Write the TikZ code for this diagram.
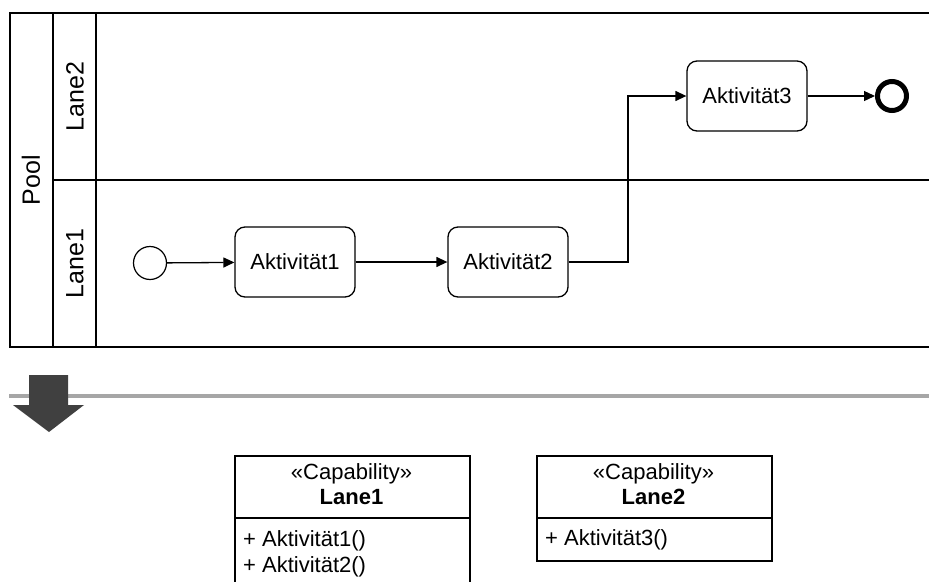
\documentclass[tikz,border=0pt]{standalone}
\usepackage{fontspec}
\setmainfont{Liberation Sans}
\usetikzlibrary{arrows.meta}
\definecolor{sepgray}{RGB}{166,166,166}
\definecolor{arrowdark}{RGB}{64,64,64}
\begin{document}
\begin{tikzpicture}[x=1pt,y=-1pt,
  txt/.style={font=\fontsize{22}{26}\selectfont, inner sep=0pt},
  act/.style={draw, rounded corners=10pt, line width=1.3pt, minimum width=120pt, minimum height=70pt, txt},
  flow/.style={line width=1.3pt, -{Triangle[length=11pt,width=10pt]}},
  lanelbl/.style={rotate=90, font=\fontsize{25}{30}\selectfont, inner sep=0pt},
  poolline/.style={line width=2pt},
  classbox/.style={draw, line width=1.8pt, inner sep=0pt, anchor=north west},
  startev/.style={draw, circle, line width=1.2pt, minimum size=33pt, inner sep=0pt},
  endev/.style={draw, circle, line width=5pt, minimum size=29pt, inner sep=0pt}
]
\useasboundingbox (0,0) rectangle (929,581);
\clip (0,0) rectangle (929,581);
% pool
\draw[poolline] (935,13) -- (10,13) -- (10,347) -- (935,347);
\draw[poolline] (53,13) -- (53,347);
\draw[poolline] (96,13) -- (96,347);
\draw[poolline] (53,180) -- (935,180);
\node[lanelbl] (pool) at (31,180) {Pool};
\node[lanelbl] (lane2) at (75,96.5) {Lane2};
\node[lanelbl] (lane1) at (75,263.5) {Lane1};
% flow elements
\node[startev] (start) at (150,263) {};
\node[act] (a1) at (295,262) {Aktivität1};
\node[act] (a2) at (508,262) {Aktivität2};
\node[act] (a3) at (747,96) {Aktivität3};
\node[endev] (end) at (892,96) {};
\coordinate (bend1) at (628,262);
\coordinate (bend2) at (628,96);
\draw[flow] (start) -- (a1);
\draw[flow] (a1) -- (a2);
\draw[flow] (a2.east) -- (bend1) -- (bend2) -- (a3.west);
\draw[flow] (a3) -- (end);
% separator and big arrow
\draw[line width=4pt, sepgray] (9,396) -- (935,396);
\fill[arrowdark] (29,375) -- (68,375) -- (68,405) -- (84,405) -- (49,432) -- (13,405) -- (29,405) -- cycle;
% class Lane1
\node[classbox, minimum width=235pt, minimum height=62pt] (c1h) at (234,455) {};
\node[txt] (c1s) at (351.5,474) {«Capability»};
\node[txt, font=\fontsize{22}{26}\selectfont\bfseries] (c1n) at (351.5,497) {Lane1};
\node[classbox, minimum width=235pt, minimum height=90pt] (c1b) at (234,517) {};
\node[txt, anchor=west] (c1m1) at (243,541) {+ Aktivität1()};
\node[txt, anchor=west] (c1m2) at (243,567) {+ Aktivität2()};
% class Lane2
\node[classbox, minimum width=235pt, minimum height=62pt] (c2h) at (536,455) {};
\node[txt] (c2s) at (653.5,474) {«Capability»};
\node[txt, font=\fontsize{22}{26}\selectfont\bfseries] (c2n) at (653.5,497) {Lane2};
\node[classbox, minimum width=235pt, minimum height=43pt] (c2b) at (536,517) {};
\node[txt, anchor=west] (c2m1) at (545,540) {+ Aktivität3()};
\end{tikzpicture}
\end{document}
